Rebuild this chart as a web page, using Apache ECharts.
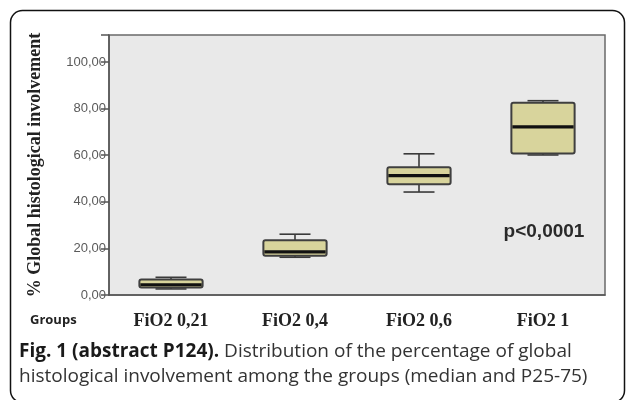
<!DOCTYPE html>
<html>
<head>
<meta charset="utf-8">
<script src="https://cdn.jsdelivr.net/npm/echarts@6/dist/echarts.min.js"></script>
<style>html,body{margin:0;padding:0;background:#fff;}#c{width:627px;height:400px;}</style>
</head>
<body>
<div id="c"></div>
<script>
var categories = ['FiO2 0,21', 'FiO2 0,4', 'FiO2 0,6', 'FiO2 1'];
var mins    = [2.6, 16.2, 44.2, 60.1];
var q1s     = [3.2, 16.8, 47.5, 60.7];
var medians = [4.4, 18.5, 51.2, 72.2];
var q3s     = [6.7, 23.5, 54.8, 82.5];
var maxs    = [7.6, 26.1, 60.6, 83.4];
var yTickLabels = ['0,00', '20,00', '40,00', '60,00', '80,00', '100,00'];
var yTickValues = [0, 20, 40, 60, 80, 100];

var boxData = categories.map(function (c, i) {
  return [i, mins[i], q1s[i], medians[i], q3s[i], maxs[i]];
});

var chart = echarts.init(document.getElementById('c'), null, {renderer: 'canvas'});

function renderBox(params, api) {
  var idx = api.value(0);
  var pMin = api.coord([idx, api.value(1)]);
  var pQ1 = api.coord([idx, api.value(2)]);
  var pMed = api.coord([idx, api.value(3)]);
  var pQ3 = api.coord([idx, api.value(4)]);
  var pMax = api.coord([idx, api.value(5)]);
  var band = api.size([1, 0])[0];
  var bw = band * 0.51;
  var cw = band * 0.25;
  var x = pQ1[0];
  var lineStyle = {stroke: '#3a3a3a', lineWidth: 1.6, fill: null};
  return {
    type: 'group',
    children: [
      {type: 'line', shape: {x1: x, y1: pMax[1], x2: x, y2: pQ3[1]}, style: lineStyle},
      {type: 'line', shape: {x1: x, y1: pQ1[1], x2: x, y2: pMin[1]}, style: lineStyle},
      {type: 'line', shape: {x1: x - cw / 2, y1: pMax[1], x2: x + cw / 2, y2: pMax[1]}, style: lineStyle},
      {type: 'line', shape: {x1: x - cw / 2, y1: pMin[1], x2: x + cw / 2, y2: pMin[1]}, style: lineStyle},
      {type: 'rect', shape: {x: x - bw / 2, y: pQ3[1], width: bw, height: pQ1[1] - pQ3[1], r: 2},
        style: {fill: '#d8d49c', stroke: '#3f3f3f', lineWidth: 2}},
      {type: 'line', shape: {x1: x - bw / 2 + 1, y1: pMed[1], x2: x + bw / 2 - 1, y2: pMed[1]},
        style: {stroke: '#111', lineWidth: 3.2}}
    ]
  };
}

chart.setOption({
  animation: false,
  grid: {left: 109, right: 22, top: 35, bottom: 105, show: true,
    backgroundColor: '#e9e9e9', borderColor: '#6a6a6a', borderWidth: 1.5},
  xAxis: {
    type: 'category', data: categories,
    axisLine: {lineStyle: {color: '#555', width: 1.5}},
    axisTick: {alignWithLabel: true, length: 8, lineStyle: {color: '#555', width: 1.5}},
    axisLabel: {margin: 17, color: '#222', fontFamily: 'Liberation Serif', fontWeight: 'bold', fontSize: 18},
    splitLine: {show: false}
  },
  yAxis: {
    type: 'value', min: 0, max: 111.6, interval: 20,
    axisLine: {show: true, lineStyle: {color: '#555', width: 1.5}},
    axisTick: {show: true, length: 8, lineStyle: {color: '#555', width: 1.5}},
    axisLabel: {margin: 3, color: '#5a5a5a', fontFamily: 'Liberation Sans Narrow, Liberation Sans', fontSize: 13,
      formatter: function (v) { var k = yTickValues.indexOf(v); return k >= 0 ? yTickLabels[k] : ''; }},
    splitLine: {show: false}
  },
  graphic: [
    {type: 'rect', left: 8, top: 8, shape: {width: 614, height: 392, r: 12},
      style: {fill: null, stroke: '#111', lineWidth: 1.5}, z: 100},
    {type: 'text', x: 35, y: 165, rotation: Math.PI / 2,
      style: {text: '% Global histological involvement', fontFamily: 'Liberation Serif', fontWeight: 'bold',
        fontSize: 18, fill: '#222', align: 'center', verticalAlign: 'middle'}},
    {type: 'text', x: 544, y: 232,
      style: {text: 'p<0,0001', fontFamily: 'Liberation Sans', fontWeight: 'bold', fontSize: 19,
        fill: '#2a2a2a', align: 'center', verticalAlign: 'middle'}},
    {type: 'text', x: 30, y: 320,
      style: {text: 'Groups', fontFamily: 'Open Sans', fontWeight: 'bold', fontSize: 13,
        fill: '#222', align: 'left', verticalAlign: 'middle'}},
    {type: 'text', x: 19, y: 352,
      style: {text: '{b|Fig. 1 (abstract P124).} Distribution of the percentage of global',
        rich: {b: {fontWeight: 'bold', fontFamily: 'Open Sans', fontSize: 19, fill: '#1a1a1a'}},
        fontFamily: 'Open Sans', fontSize: 19, fill: '#333', verticalAlign: 'middle'}},
    {type: 'text', x: 19, y: 377,
      style: {text: 'histological involvement among the groups (median and P25-75)',
        fontFamily: 'Open Sans', fontSize: 19, fill: '#333', verticalAlign: 'middle'}}
  ],
  series: [{
    type: 'custom', renderItem: renderBox, data: boxData,
    encode: {x: 0, y: [1, 2, 3, 4, 5]}, z: 10
  }]
});
</script>
</body>
</html>
